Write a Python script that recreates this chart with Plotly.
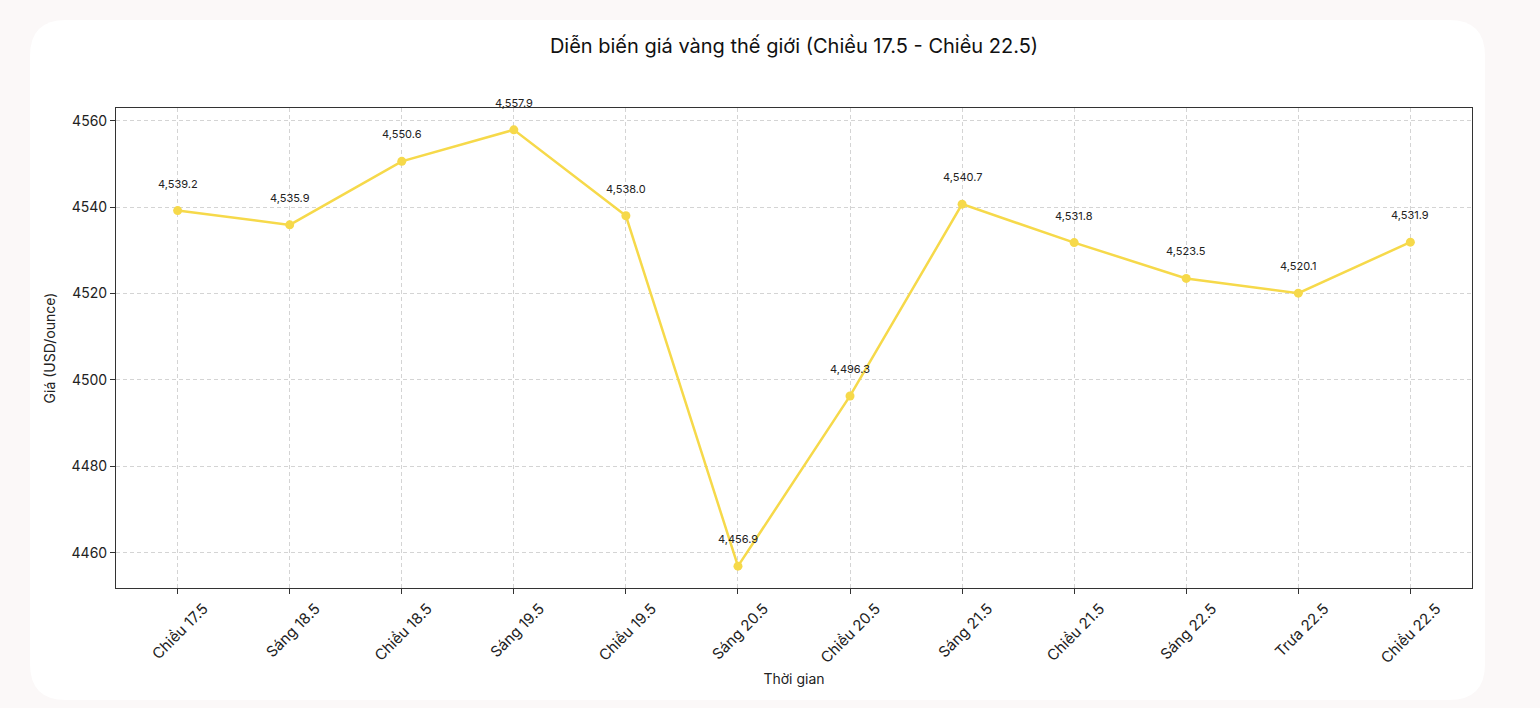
import plotly.graph_objects as go

# gold price, USD/ounce
times = ["Chiều 17.5", "Sáng 18.5", "Chiều 18.5", "Sáng 19.5", "Chiều 19.5", "Sáng 20.5",
         "Chiều 20.5", "Sáng 21.5", "Chiều 21.5", "Sáng 22.5", "Trưa 22.5", "Chiều 22.5"]
prices = [4539.2, 4535.9, 4550.6, 4557.9, 4538.0, 4456.9,
          4496.3, 4540.7, 4531.8, 4523.5, 4520.1, 4531.9]
y_ticks = [4460, 4480, 4500, 4520, 4540, 4560]

W, H = 1540, 708
L, R, T, B = 116, 68, 108, 120
FONT = "Inter, Roboto, sans-serif"
BG = "#fbf8f8"
gold = "#f6d94a"


def px(x):
    return (x - L) / (W - L - R)


def py(y):
    return (H - B - y) / (H - T - B)


def card(x0, y0, x1, y1, r):
    # rounded rectangle in paper coords
    pts = [
        f"M {px(x0 + r)},{py(y0)}",
        f"L {px(x1 - r)},{py(y0)}",
        f"Q {px(x1)},{py(y0)} {px(x1)},{py(y0 + r)}",
        f"L {px(x1)},{py(y1 - r)}",
        f"Q {px(x1)},{py(y1)} {px(x1 - r)},{py(y1)}",
        f"L {px(x0 + r)},{py(y1)}",
        f"Q {px(x0)},{py(y1)} {px(x0)},{py(y1 - r)}",
        f"L {px(x0)},{py(y0 + r)}",
        f"Q {px(x0)},{py(y0)} {px(x0 + r)},{py(y0)}",
        "Z",
    ]
    return " ".join(pts)


fig = go.Figure()
fig.add_trace(go.Scatter(
    x=list(range(len(times))), y=prices, mode="lines+markers",
    line=dict(color=gold, width=2.5),
    marker=dict(color=gold, size=9),
    hovertemplate="%{y:,.1f}<extra></extra>",
))

for i, v in enumerate(prices):
    fig.add_annotation(x=i, y=v, text=f"{v:,.1f}", showarrow=False, yshift=27,
                       font=dict(size=11, color="#222222", family=FONT))

axis = dict(showline=True, linecolor="#333333", linewidth=1, mirror=True,
            ticks="outside", ticklen=5, tickcolor="#333333",
            showgrid=True, gridcolor="#d4d4d4", griddash="4px,3px", gridwidth=1,
            zeroline=False, tickfont=dict(size=14, color="#222222", family=FONT))

fig.update_xaxes(**axis, range=[-0.55, 11.55], tickmode="array",
                 tickvals=list(range(len(times))), ticktext=times, tickangle=-45,
                 ticklabelshift=26,
                 title=dict(text="Thời gian", font=dict(size=14, color="#222222", family=FONT),
                            standoff=8))
fig.update_xaxes(tickfont_size=15)
fig.update_yaxes(**axis, range=[4451.85, 4562.95], tickmode="array", tickvals=y_ticks,
                 title=dict(text="Giá (USD/ounce)", font=dict(size=14, color="#222222", family=FONT),
                            standoff=12))

fig.update_layout(
    width=W, height=H,
    margin=dict(l=L, r=R, t=T, b=B),
    paper_bgcolor=BG, plot_bgcolor="white",
    showlegend=False,
    font=dict(family=FONT),
    title=dict(text="Diễn biến giá vàng thế giới (Chiều 17.5 - Chiều 22.5)",
               xref="paper", x=0.5, xanchor="center", y=1 - 46 / H, yanchor="middle",
               font=dict(size=20, color="#111111", family=FONT)),
    shapes=[dict(type="path", xref="paper", yref="paper", layer="below",
                 path=card(30, 20, 1485, 700, 36),
                 fillcolor="white", line=dict(width=0))],
)

fig.write_html("out.html", config={"displayModeBar": False},
               post_script=f"document.body.style.margin='0';document.body.style.background='{BG}';")
